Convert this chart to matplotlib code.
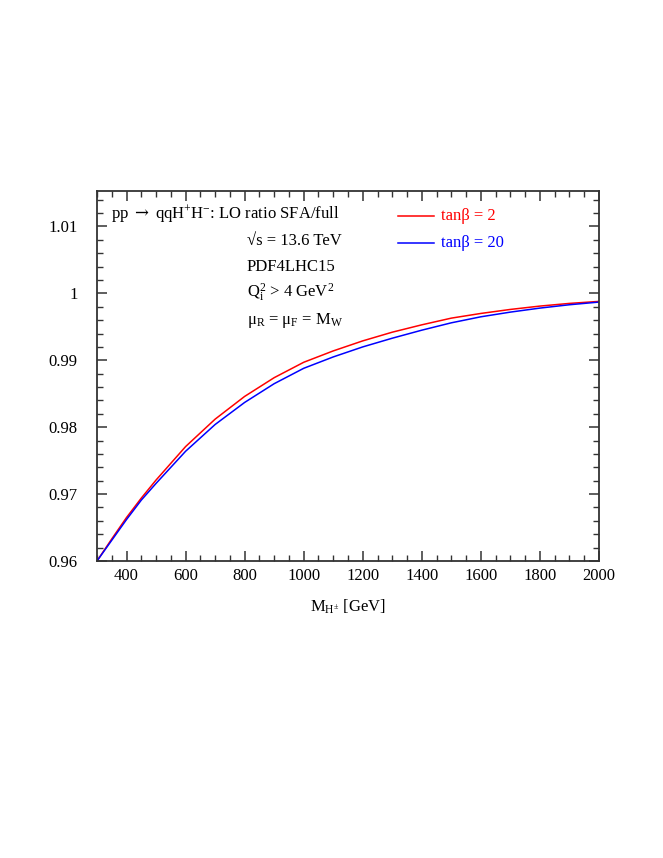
import matplotlib
matplotlib.use("Agg")
import matplotlib.pyplot as plt
from matplotlib.ticker import MultipleLocator, FuncFormatter
from matplotlib.lines import Line2D

plt.rcParams['font.family'] = ['Liberation Serif', 'DejaVu Serif']
plt.rcParams['mathtext.fontset'] = 'custom'
plt.rcParams['mathtext.rm'] = 'Liberation Serif'
plt.rcParams['mathtext.it'] = 'Liberation Serif'
plt.rcParams['mathtext.bf'] = 'Liberation Serif:bold'
plt.rcParams['mathtext.sf'] = 'DejaVu Serif'

mass = [300, 350, 400, 450, 500, 600, 700, 800, 900, 1000, 1100, 1200, 1300,
        1400, 1500, 1600, 1700, 1800, 1900, 2000]
ratio_tb2 = [0.9600, 0.9633, 0.9665, 0.9694, 0.9721, 0.9771, 0.9812, 0.9846,
             0.9874, 0.9897, 0.9914, 0.9929, 0.9942, 0.9953, 0.9963, 0.9970,
             0.9976, 0.9981, 0.9985, 0.9988]
ratio_tb20 = [0.9600, 0.9631, 0.9662, 0.9691, 0.9716, 0.9764, 0.9804, 0.9837,
              0.9865, 0.9888, 0.9905, 0.9920, 0.9933, 0.9945, 0.9956, 0.9965,
              0.9972, 0.9978, 0.9983, 0.9987]

fig = plt.figure(figsize=(6.63, 8.58), dpi=100)
ax = fig.add_axes([97/663, 1-561/858, (599-97)/663, (561-191)/858])

ax.plot(mass, ratio_tb2, color='#ff0000', lw=1.1, solid_joinstyle='round')
ax.plot(mass, ratio_tb20, color='#0000ff', lw=1.1, solid_joinstyle='round')

ax.set_xlim(300, 2000)
ax.set_ylim(0.96, 1.0153)

ax.xaxis.set_major_locator(MultipleLocator(200))
ax.xaxis.set_minor_locator(MultipleLocator(50))
ax.yaxis.set_major_locator(MultipleLocator(0.01))
ax.yaxis.set_minor_locator(MultipleLocator(0.002))

def yfmt(v, pos):
    return f"{v:.2f}".rstrip('0').rstrip('.')
ax.yaxis.set_major_formatter(FuncFormatter(yfmt))

for sp in ax.spines.values():
    sp.set_linewidth(1.3)
    sp.set_color('#333333')
ax.tick_params(which='both', direction='in', top=True, right=True,
               color='#333333', labelsize=12)
ax.tick_params(which='major', length=7, width=1.1)
ax.tick_params(axis='x', which='major', pad=5)
ax.tick_params(axis='y', which='major', pad=14)
ax.tick_params(which='minor', length=4, width=1.0)

ax.set_xlabel(r'M$_{\mathrm{H}^{\pm}}$ [GeV]', fontsize=12, labelpad=10)

fs = 12
def t(px, py, s, **kw):
    fig.text(px/663, 1-py/858, s, fontsize=fs, va='center', ha='left', **kw)

t(111, 214, r'pp $\mathsf{\rightarrow}$ qqH$^{+}$H$^{-}$: LO ratio SFA/full')
t(247, 241, '√s = 13.6 TeV')
t(247, 267, 'PDF4LHC15')
t(247, 293, r'Q$_{\mathrm{i}}^{2}$ > 4 GeV$^{2}$')
t(247, 320, r'μ$_{\mathrm{R}}$ = μ$_{\mathrm{F}}$ = M$_{\mathrm{W}}$')

for yy, col, lab in [(216, '#ff0000', 'tanβ = 2'), (243, '#0000ff', 'tanβ = 20')]:
    fig.add_artist(Line2D([398/663, 434/663], [1-yy/858, 1-yy/858], color=col, lw=1.1))
    t(441, yy, lab, color=col)

fig.savefig('out.png', dpi=100)
